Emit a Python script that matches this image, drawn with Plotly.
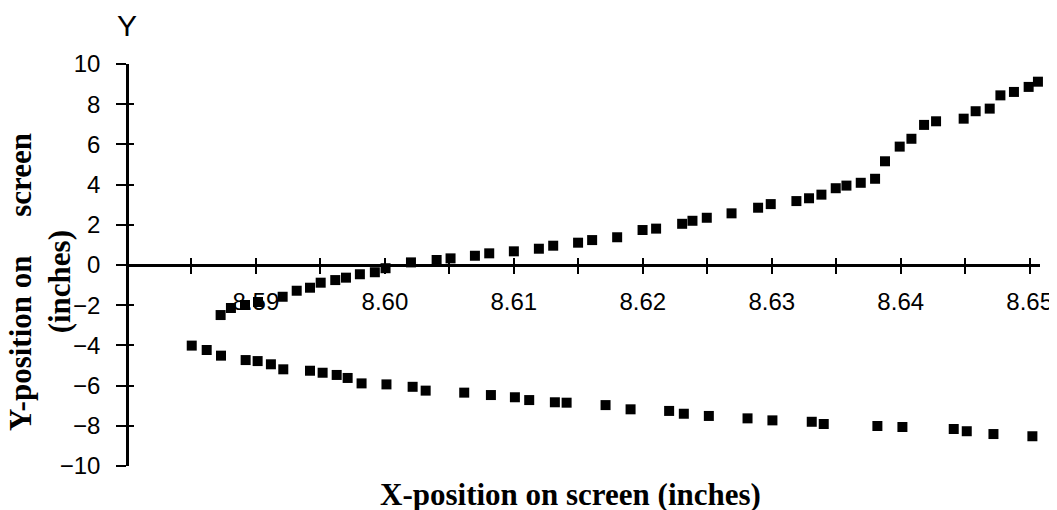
import plotly.graph_objects as go

# upper branch (above / crossing the x axis)
upper_x = [8.58726, 8.58806, 8.58915, 8.59016, 8.59207, 8.59316, 8.59419, 8.59502,
           8.59615, 8.59698, 8.59806, 8.59922, 8.60005, 8.60202, 8.60401, 8.60509,
           8.60698, 8.60809, 8.61000, 8.61194, 8.61305, 8.61498, 8.61607, 8.61801,
           8.61998, 8.62103, 8.62305, 8.62385, 8.62496, 8.62688, 8.62894, 8.62992,
           8.63191, 8.63289, 8.63385, 8.63496, 8.63579, 8.63690, 8.63801, 8.63878,
           8.63992, 8.64083, 8.64181, 8.64274, 8.64488, 8.64581, 8.64690, 8.64773,
           8.64878, 8.64992, 8.65064]
upper_y = [-2.49, -2.14, -1.99, -1.84, -1.58, -1.28, -1.13, -0.88,
           -0.75, -0.63, -0.46, -0.36, -0.16, 0.13, 0.25, 0.33,
           0.46, 0.58, 0.68, 0.81, 0.96, 1.11, 1.24, 1.38,
           1.74, 1.81, 2.05, 2.20, 2.35, 2.57, 2.85, 3.03,
           3.18, 3.32, 3.50, 3.82, 3.95, 4.09, 4.29, 5.16,
           5.89, 6.28, 6.97, 7.15, 7.28, 7.65, 7.78, 8.44,
           8.61, 8.86, 9.12]

# lower branch
lower_x = [8.58502, 8.58618, 8.58729, 8.58920, 8.59013, 8.59116, 8.59212, 8.59419,
           8.59517, 8.59626, 8.59711, 8.59819, 8.60012, 8.60215, 8.60316, 8.60615,
           8.60822, 8.61008, 8.61119, 8.61318, 8.61409, 8.61711, 8.61905, 8.62204,
           8.62318, 8.62512, 8.62812, 8.63005, 8.63310, 8.63403, 8.63819, 8.64013,
           8.64411, 8.64512, 8.64719, 8.65021]
lower_y = [-4.01, -4.23, -4.51, -4.73, -4.78, -4.94, -5.19, -5.26,
           -5.36, -5.47, -5.62, -5.89, -5.94, -6.06, -6.25, -6.35,
           -6.47, -6.58, -6.72, -6.83, -6.85, -6.97, -7.18, -7.26,
           -7.40, -7.51, -7.63, -7.73, -7.80, -7.91, -8.01, -8.06,
           -8.16, -8.27, -8.41, -8.52]

x_ticks = [8.585, 8.59, 8.595, 8.60, 8.605, 8.61, 8.615, 8.62, 8.625,
           8.63, 8.635, 8.64, 8.645, 8.65]
x_labels = ["", "8.59", "", "8.60", "", "8.61", "", "8.62", "",
            "8.63", "", "8.64", "", "8.65"]
y_ticks = [-10, -8, -6, -4, -2, 0, 2, 4, 6, 8, 10]

marker = dict(symbol="square", size=10, color="black")

fig = go.Figure()
fig.add_trace(go.Scatter(x=upper_x, y=upper_y, mode="markers", marker=marker,
                         cliponaxis=False, xaxis="x", yaxis="y"))
fig.add_trace(go.Scatter(x=lower_x, y=lower_y, mode="markers", marker=marker,
                         cliponaxis=False, xaxis="x2", yaxis="y2"))

tick_font = dict(family="Liberation Sans, Arial", size=24, color="black")
x_common = dict(range=[8.58, 8.6508], domain=[0, 1], anchor="free", position=0.5,
                showgrid=False, zeroline=False, tickvals=x_ticks,
                tickwidth=2, tickcolor="black", ticklen=7)
y_common = dict(range=[-10, 10], domain=[0, 1], anchor="free", position=0,
                showgrid=False, zeroline=False, tickvals=y_ticks,
                tickwidth=2, tickcolor="black")

# page body has an 8px margin, so the plot area is offset by -8px here
fig.update_layout(
    width=1057, height=510,
    margin=dict(l=119, r=25, t=56, b=52),
    plot_bgcolor="white", paper_bgcolor="white",
    showlegend=False,
    xaxis=dict(**x_common, ticks="outside", ticktext=x_labels,
               showline=True, linewidth=2.5, linecolor="black",
               tickfont=tick_font, ticklabelstandoff=7),
    xaxis2=dict(**x_common, ticks="inside", overlaying="x", matches="x",
                showticklabels=False, showline=False),
    yaxis=dict(**y_common, ticks="outside", ticklen=10,
               showline=True, linewidth=2.5, linecolor="black",
               tickfont=tick_font, ticklabelstandoff=11),
    yaxis2=dict(**y_common, ticks="inside", ticklen=6, overlaying="y",
                matches="y", showticklabels=False, showline=False),
)

title_font = dict(family="Liberation Serif, Times New Roman", size=31, color="black")
fig.add_annotation(text="Y", xref="paper", yref="paper", x=0, y=1.095,
                   showarrow=False, xanchor="center", yanchor="middle",
                   font=dict(family="Liberation Sans, Arial", size=30, color="black"))
fig.add_annotation(text="<b>Y-position on&nbsp;&nbsp;&nbsp;&nbsp;&nbsp;screen</b>",
                   xref="paper", yref="paper", x=-0.116, y=0.458, textangle=-90,
                   showarrow=False, xanchor="center", yanchor="middle", font=title_font)
fig.add_annotation(text="<b>(inches)</b>", xref="paper", yref="paper",
                   x=-0.074, y=0.458, textangle=-90,
                   showarrow=False, xanchor="center", yanchor="middle", font=title_font)
fig.add_annotation(text="<b>X-position on screen (inches)</b>", xref="paper", yref="paper",
                   x=0.486, y=-0.07, showarrow=False, xanchor="center", yanchor="middle",
                   font=title_font)

fig.write_html("out.html")
